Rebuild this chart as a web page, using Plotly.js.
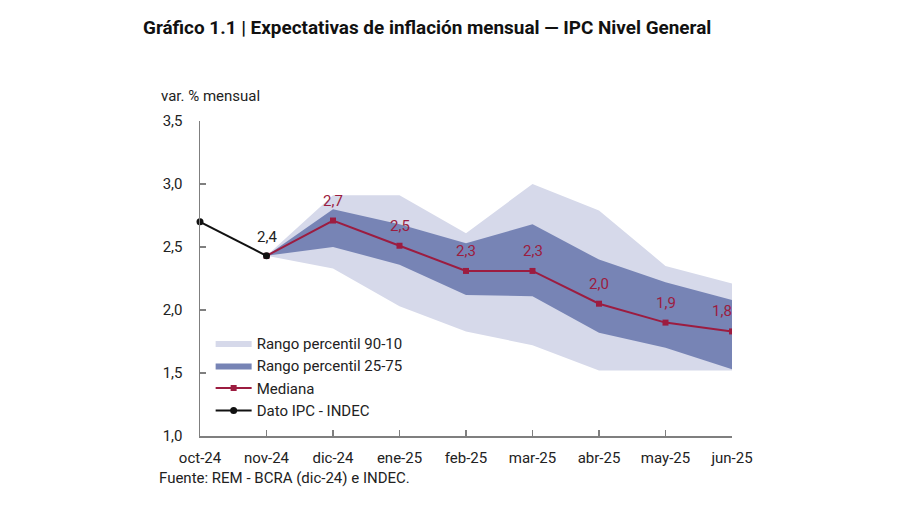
<!DOCTYPE html>
<html>
<head>
<meta charset="utf-8">
<script src="https://cdn.plot.ly/plotly-3.0.1.min.js"></script>
<style>html,body{margin:0;padding:0;background:#fff;}#chart{width:900px;height:506px;}</style>
</head>
<body>
<div id="chart"></div>
<script>
const months = ['oct-24','nov-24','dic-24','ene-25','feb-25','mar-25','abr-25','may-25','jun-25'];
const ipcMonths = ['oct-24','nov-24'];
const ipcValues = [2.7, 2.43];
const ipcLabels = ['', '2,4'];
const fcMonths = ['nov-24','dic-24','ene-25','feb-25','mar-25','abr-25','may-25','jun-25'];
const median = [2.43, 2.71, 2.51, 2.31, 2.31, 2.05, 1.90, 1.83];
const medianLabels = ['', '2,7', '2,5', '2,3', '2,3', '2,0', '1,9', '1,8'];
const p25 = [2.43, 2.50, 2.36, 2.12, 2.11, 1.82, 1.70, 1.53];
const p75 = [2.43, 2.80, 2.68, 2.53, 2.68, 2.40, 2.22, 2.08];
const p10 = [2.43, 2.33, 2.03, 1.83, 1.72, 1.52, 1.52, 1.52];
const p90 = [2.43, 2.91, 2.91, 2.61, 3.00, 2.79, 2.35, 2.21];

const LIGHT = '#d6d9ea', DARK = '#7784b5', RED = '#9c1c40', BLACK = '#111111';
const FONT = 'Roboto, "Liberation Sans", sans-serif';
const FS = 15;

const traces = [
  {x: fcMonths, y: p10, mode: 'lines', line: {width: 0, color: LIGHT}, showlegend: false, hoverinfo: 'skip'},
  {x: fcMonths, y: p90, mode: 'lines', line: {width: 0, color: LIGHT}, fill: 'tonexty', fillcolor: LIGHT, name: 'Rango percentil 90-10'},
  {x: fcMonths, y: p25, mode: 'lines', line: {width: 0, color: DARK}, showlegend: false, hoverinfo: 'skip'},
  {x: fcMonths, y: p75, mode: 'lines', line: {width: 0, color: DARK}, fill: 'tonexty', fillcolor: DARK, name: 'Rango percentil 25-75'},
  {x: fcMonths, y: median, mode: 'lines+markers', line: {width: 2, color: RED}, marker: {size: 6, symbol: 'square', color: RED}, name: 'Mediana'},
  {x: ipcMonths, y: ipcValues, mode: 'lines+markers', line: {width: 2, color: BLACK}, marker: {size: 7, color: BLACK}, name: 'Dato IPC - INDEC', cliponaxis: false}
];

const annotations = [];
fcMonths.forEach((m, i) => {
  if (medianLabels[i]) annotations.push({x: m, y: median[i], xref: 'x', yref: 'y', text: medianLabels[i], showarrow: false, yshift: 20, xshift: i === fcMonths.length - 1 ? -10 : 0, font: {family: FONT, size: FS, color: RED}});
});
ipcMonths.forEach((m, i) => {
  if (ipcLabels[i]) annotations.push({x: m, y: ipcValues[i], xref: 'x', yref: 'y', text: ipcLabels[i], showarrow: false, yshift: 19, font: {family: FONT, size: FS, color: '#222'}});
});
annotations.push({xref: 'paper', yref: 'paper', x: -0.077, y: 1.045, xanchor: 'left', yanchor: 'bottom', text: 'var. % mensual', showarrow: false, font: {family: FONT, size: FS, color: '#222'}});
annotations.push({xref: 'paper', yref: 'paper', x: -0.081, y: -0.097, xanchor: 'left', yanchor: 'top', text: 'Fuente: REM - BCRA (dic-24) e INDEC.', showarrow: false, font: {family: FONT, size: FS, color: '#222'}});

const layout = {
  width: 900, height: 506,
  margin: {l: 200, r: 168, t: 121, b: 70},
  paper_bgcolor: '#fff', plot_bgcolor: '#fff',
  separators: ',.',
  font: {family: FONT, size: FS, color: '#222'},
  title: {text: '<b>Gráfico 1.1 | Expectativas de inflación mensual — IPC Nivel General</b>', x: 143/900, xanchor: 'left', y: 0.945, yanchor: 'middle', font: {family: FONT, size: 18.9, color: '#111'}},
  xaxis: {type: 'category', categoryorder: 'array', categoryarray: months, range: [0, 8], showgrid: false, zeroline: false,
    showline: true, linecolor: '#7f7f7f', linewidth: 1.5, ticks: 'inside', ticklen: 6, tickcolor: '#7f7f7f', tickwidth: 1.5,
    ticklabelstandoff: 7, tickfont: {family: FONT, size: FS, color: '#222'}, fixedrange: true},
  yaxis: {range: [1, 3.5], dtick: 0.5, tickformat: '.1f', showgrid: false, zeroline: false,
    showline: true, linecolor: '#7f7f7f', linewidth: 1.5, ticks: 'inside', ticklen: 6, tickcolor: '#7f7f7f', tickwidth: 1.5,
    ticklabelstandoff: 13, tickfont: {family: FONT, size: FS, color: '#222'}, fixedrange: true},
  legend: {x: 0.02, y: 0.347, xanchor: 'left', yanchor: 'top', traceorder: 'normal', bgcolor: 'rgba(0,0,0,0)', font: {family: FONT, size: FS, color: '#222'}, tracegroupgap: 0, itemwidth: 36},
  showlegend: true,
  annotations: annotations
};

Plotly.newPlot('chart', traces, layout, {displayModeBar: false, staticPlot: true});
</script>
</body>
</html>
